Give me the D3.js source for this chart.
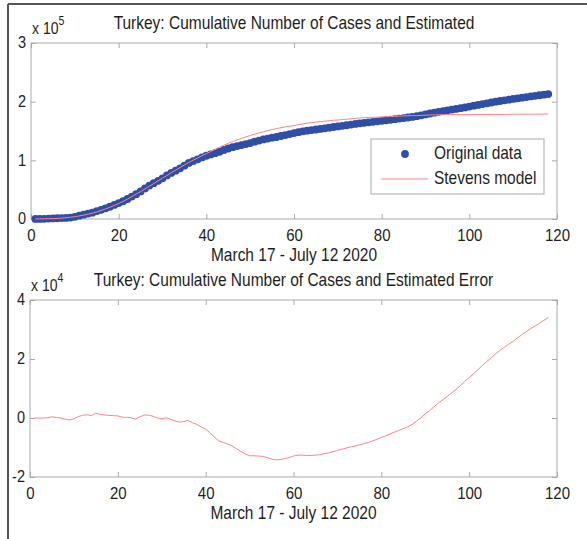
<!DOCTYPE html>
<html>
<head>
<meta charset="utf-8">
<script src="https://cdn.jsdelivr.net/npm/d3@7/dist/d3.min.js"></script>
<style>
body { margin: 0; background: #fff; }
svg text { font-family: "Liberation Sans", Arial, Helvetica, sans-serif; fill: #1e1e1e; }
</style>
</head>
<body>
<div id="chart"></div>
<script>
// day index 1..118 = March 17 .. July 12 2020
var days = d3.range(1, 119);

// cumulative confirmed cases, Turkey
var cases = [98, 191, 359, 670, 947, 1236, 1529, 1872, 2433, 3629,
  5698, 7402, 9217, 10827, 13531, 15679, 18135, 20921, 23934, 27069,
  30217, 34109, 38226, 42282, 47029, 52167, 56956, 61049, 65111, 69392,
  74193, 78546, 82329, 86306, 90980, 95591, 98674, 101790, 104912, 107773,
  110130, 112261, 114653, 117589, 120204, 122392, 124375, 126045, 127659, 129491,
  131744, 133721, 135569, 137115, 138657, 139771, 141475, 143114, 144749, 146457,
  148067, 149435, 150593, 151615, 152587, 153548, 154500, 155686, 156827, 157814,
  158762, 159797, 160979, 162120, 163103, 163942, 164769, 165555, 166422, 167410,
  168340, 169218, 170132, 171121, 172114, 173036, 174023, 175218, 176677, 178239,
  179831, 181298, 182727, 184031, 185245, 186493, 187685, 188897, 190165, 191657,
  193115, 194511, 195883, 197239, 198613, 199906, 201098, 202284, 203456, 204610,
  205758, 206844, 207897, 208938, 209962, 210965, 211981, 212993];

// data minus Stevens model
var errorVals = [0, 0, 0, 100, 400, 200, 0, -400, -600, -300,
  500, 900, 1100, 800, 1700, 1200, 1000, 900, 800, 700,
  300, 200, 100, -400, 400, 1000, 1000, 600, 0, -300,
  100, -400, -1000, -1400, -1200, -800, -1600, -2200, -3000, -3800,
  -5000, -6500, -7800, -8300, -8800, -9400, -10400, -11300, -12200, -12800,
  -12800, -12900, -13000, -13400, -13900, -14200, -14100, -13800, -13400, -12900,
  -12600, -12600, -12700, -12700, -12600, -12400, -12100, -11800, -11400, -11000,
  -10600, -10200, -9800, -9500, -9100, -8700, -8300, -7800, -7200, -6600,
  -6000, -5400, -4800, -4200, -3600, -3000, -2200, -1000, 0, 1400,
  2500, 3800, 5100, 6200, 7300, 8500, 9700, 11000, 12400, 13700,
  15000, 16400, 17800, 19100, 20400, 21700, 22900, 24000, 25000, 26000,
  27100, 28200, 29300, 30300, 31200, 32100, 33100, 34000];

// Stevens model curve = data - error
var model = cases.map(function(c, i) { return c - errorVals[i]; });

var xTicks = [0, 20, 40, 60, 80, 100, 120];
var topYTicks = [0, 100000, 200000, 300000];
var bottomYTicks = [-20000, 0, 20000, 40000];

var titleTop = "Turkey: Cumulative Number of Cases and Estimated";
var titleBottom = "Turkey: Cumulative Number of Cases and Estimated Error";
var xLabel = "March 17 - July 12 2020";
var legendNames = ["Original data", "Stevens model"];

var dotColor = "#2f4fa6";
var lineColor = "#ff8484";
var boxColor = "#a9a9a9";
var STRETCH = 1.13;   // the printed figure is a bit taller than wide

var W = 587, H = 539;

var svg = d3.select("#chart").append("svg")
    .attr("width", W)
    .attr("height", H);

// squeeze text glyphs vertically like the scanned figure
function stretch(sel) {
  sel.each(function() {
    var t = d3.select(this);
    var x = +t.attr("x") || 0, y = +t.attr("y") || 0;
    t.attr("x", 0).attr("y", 0)
     .attr("transform", "translate(" + x + "," + y + ") scale(1," + STRETCH + ")");
  });
}

// figure frame (left & top edges)
svg.append("line").attr("x1", 8).attr("x2", 8).attr("y1", 4).attr("y2", H)
   .style("stroke", "#555").style("stroke-width", 2);
svg.append("line").attr("x1", 8).attr("x2", W).attr("y1", 4).attr("y2", 4)
   .style("stroke", "#555").style("stroke-width", 2);

function panel(opt) {
  var x = d3.scaleLinear().domain([0, 120]).range([opt.left, opt.right]);
  var y = d3.scaleLinear().domain(opt.yDomain).range([opt.bottom, opt.top]);
  var g = svg.append("g");

  g.append("rect")
   .attr("x", opt.left).attr("y", opt.top)
   .attr("width", opt.right - opt.left).attr("height", opt.bottom - opt.top)
   .style("fill", "none").style("stroke", boxColor).style("stroke-width", 1);

  var fmt = function(d) { return d / opt.scaleDiv; };

  // bottom axis with labels, ticks inside
  var xb = g.append("g").attr("transform", "translate(0," + opt.bottom + ")")
    .call(d3.axisBottom(x).tickValues(xTicks).tickSizeInner(-5).tickSizeOuter(0).tickPadding(10));
  // top axis (ticks only)
  var xt = g.append("g").attr("transform", "translate(0," + opt.top + ")")
    .call(d3.axisTop(x).tickValues(xTicks).tickSizeInner(-5).tickSizeOuter(0).tickFormat(""));
  var yl = g.append("g").attr("transform", "translate(" + opt.left + ",0)")
    .call(d3.axisLeft(y).tickValues(opt.yTicks).tickSizeInner(-5).tickSizeOuter(0).tickPadding(5).tickFormat(fmt));
  var yr = g.append("g").attr("transform", "translate(" + opt.right + ",0)")
    .call(d3.axisRight(y).tickValues(opt.yTicks).tickSizeInner(-5).tickSizeOuter(0).tickFormat(""));

  [xb, xt, yl, yr].forEach(function(a) {
    a.select(".domain").remove();
    a.selectAll(".tick line").style("stroke", boxColor);
  });
  xb.selectAll("text").style("font-size", "15px").style("fill", "#1e1e1e").call(stretch);
  yl.selectAll("text").style("font-size", "14.5px").style("fill", "#1e1e1e").attr("dy", "0.3em").call(stretch);

  // exponent label "x 10^n"
  var ex = g.append("text").attr("x", opt.left + 1).attr("y", opt.top - 9)
    .style("font-size", "14px");
  ex.append("tspan").text("x 10");
  ex.append("tspan").attr("dy", -8).style("font-size", "10.5px").text(opt.expo);
  ex.call(stretch);

  g.append("text").attr("x", (opt.left + opt.right) / 2).attr("y", opt.top - 14)
   .attr("text-anchor", "middle").style("font-size", "15.5px").text(opt.title).call(stretch);

  g.append("text").attr("x", (opt.left + opt.right) / 2).attr("y", opt.bottom + 42)
   .attr("text-anchor", "middle").style("font-size", "15.5px").text(xLabel).call(stretch);

  return {x: x, y: y, g: g};
}

/* upper panel: data + model */
var p1 = panel({left: 31, right: 557, top: 43, bottom: 219,
                yDomain: [0, 300000], yTicks: topYTicks, scaleDiv: 100000,
                expo: "5", title: titleTop});

p1.g.append("g").selectAll("circle")
    .data(days)
  .enter().append("circle")
    .attr("cx", function(d) { return p1.x(d); })
    .attr("cy", function(d, i) { return p1.y(cases[i]); })
    .attr("r", 3.9)
    .style("fill", dotColor);

p1.g.append("path")
    .datum(days)
    .attr("d", d3.line()
      .x(function(d) { return p1.x(d); })
      .y(function(d, i) { return p1.y(model[i]); }))
    .style("fill", "none")
    .style("stroke", lineColor)
    .style("stroke-width", 1);

// legend
var lg = p1.g.append("g");
lg.append("rect").attr("x", 371).attr("y", 139).attr("width", 173).attr("height", 55)
  .style("fill", "#fff").style("stroke", boxColor).style("stroke-width", 1);
lg.append("circle").attr("cx", 405).attr("cy", 154).attr("r", 3.9).style("fill", dotColor);
lg.append("line").attr("x1", 381).attr("x2", 428).attr("y1", 179).attr("y2", 179)
  .style("stroke", lineColor).style("stroke-width", 1);
lg.append("text").attr("x", 434).attr("y", 159).style("font-size", "15.5px").text(legendNames[0]).call(stretch);
lg.append("text").attr("x", 434).attr("y", 184).style("font-size", "15.5px").text(legendNames[1]).call(stretch);

/* lower panel: error */
var p2 = panel({left: 30, right: 557, top: 300, bottom: 477,
                yDomain: [-20000, 40000], yTicks: bottomYTicks, scaleDiv: 10000,
                expo: "4", title: titleBottom});

p2.g.append("path")
    .datum(days)
    .attr("d", d3.line()
      .x(function(d) { return p2.x(d); })
      .y(function(d, i) { return p2.y(errorVals[i]); }))
    .style("fill", "none")
    .style("stroke", lineColor)
    .style("stroke-width", 1);
</script>
</body>
</html>
